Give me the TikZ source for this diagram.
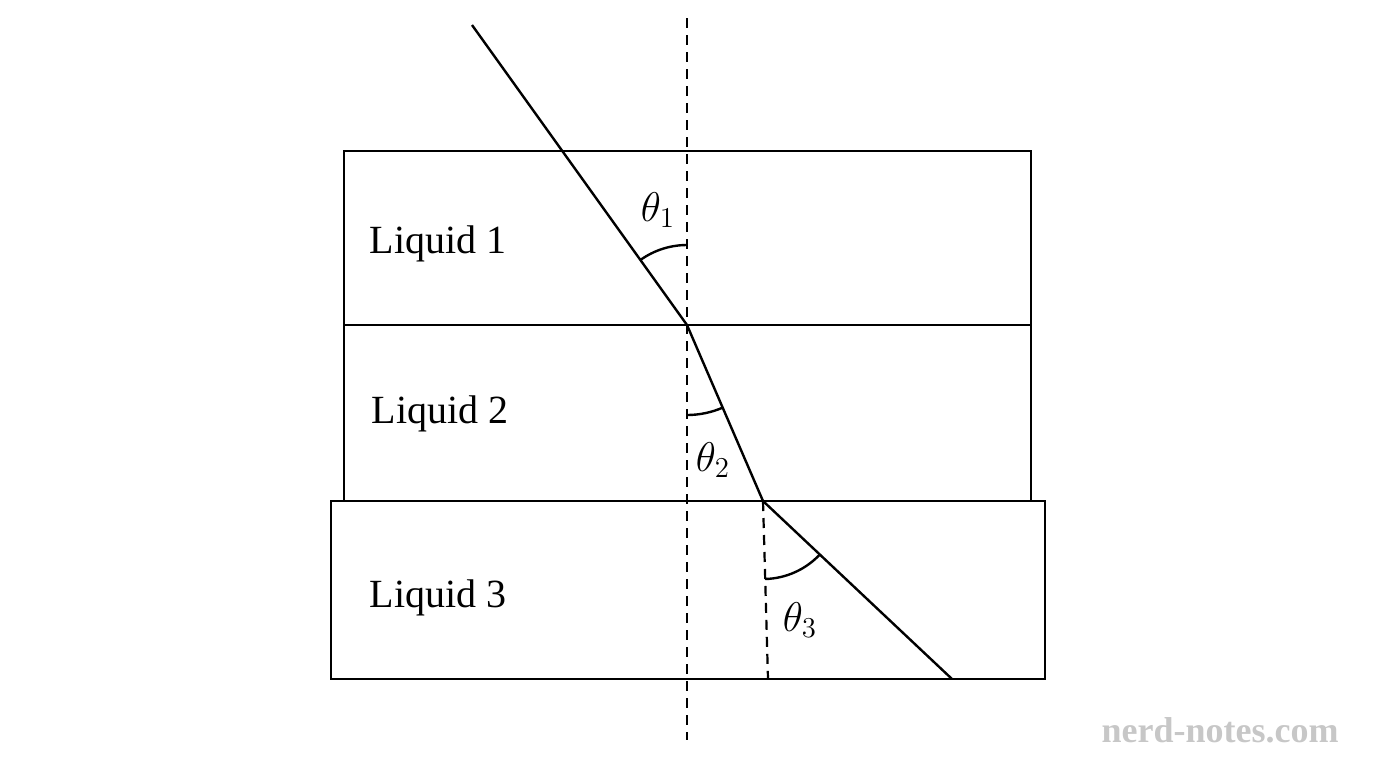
\documentclass[tikz,border=0pt]{standalone}
\usepackage{fontspec}
\setmainfont{Liberation Serif}
\begin{document}
\begin{tikzpicture}[x=0.5pt,y=-0.5pt,
  ln/.style={line width=1.2pt},
  dsh/.style={line width=1.1pt,dash pattern=on 5pt off 3.5pt},
  lab/.style={font=\fontsize{20}{24}\selectfont},
  ang/.style={font=\fontsize{20}{24}\selectfont}]
\useasboundingbox (0,0) rectangle (1376,768);
\draw[ln] (344,151) rectangle (1031,325);
\draw[ln] (344,325) rectangle (1031,501);
\draw[ln] (331,501) rectangle (1045,679);
\coordinate (top) at (687,18);
\coordinate (bot) at (687,740);
\coordinate (s) at (472,25);
\coordinate (p1) at (687,325);
\coordinate (p2) at (763,501);
\coordinate (e) at (952,679);
\coordinate (n3) at (768,679);
\draw[dsh] (top) -- (bot);
\draw[dsh] (p2) -- (n3);
\draw[ln] (s) -- (p1) -- (p2) -- (e);
\draw[ln] (p1) ++(0,-80) arc[start angle=90,end angle=125.6,radius=40pt];
\draw[ln] (p1) ++(0,90) arc[start angle=-90,end angle=-66.6,radius=45pt];
\draw[ln] (p2) ++(2.2,78) arc[start angle=-88.4,end angle=-43.3,radius=39pt];
\node[ang] (t1) at (658,210) {$\theta_1$};
\node[ang] (t2) at (713,460) {$\theta_2$};
\node[ang] (t3) at (800,620) {$\theta_3$};
\node[lab] (l1) at (438,244) {Liquid 1};
\node[lab] (l2) at (440,414) {Liquid 2};
\node[lab] (l3) at (438,598) {Liquid 3};
\node[font=\bfseries\fontsize{18}{20}\selectfont,text=black!22] (wm) at (1220,730) {nerd-notes.com};
\end{tikzpicture}
\end{document}
